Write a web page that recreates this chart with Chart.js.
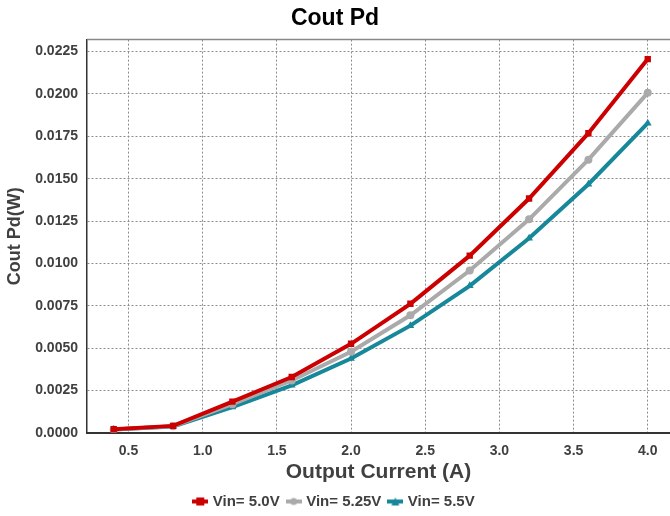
<!DOCTYPE html>
<html>
<head>
<meta charset="utf-8">
<script src="https://cdn.jsdelivr.net/npm/chart.js@4/dist/chart.umd.min.js"></script>
<style>
  html, body { margin: 0; padding: 0; background: #fff; }
  #wrap { width: 670px; height: 516px; position: relative; }
</style>
</head>
<body>
<div id="wrap"><canvas id="coutChart"></canvas></div>
<script>
// Output current (A)
const currents = [0.4, 0.8, 1.2, 1.6, 2.0, 2.4, 2.8, 3.2, 3.6, 4.0];

// Cout power dissipation (W)
const vin50 = [0.00022, 0.00042, 0.00185, 0.0033, 0.00526, 0.00762, 0.01046, 0.01383, 0.01768, 0.02205];
const vin525 = [0.0002, 0.0004, 0.0017, 0.0031, 0.00479, 0.00694, 0.00958, 0.0126, 0.01612, 0.02006];
const vin55 = [0.0002, 0.00038, 0.00153, 0.00281, 0.00439, 0.00633, 0.00868, 0.01148, 0.01467, 0.01827];

const seriesNames = ['Vin= 5.0V', 'Vin= 5.25V', 'Vin= 5.5V'];
const seriesColors = ['#cc0000', '#aaaaaa', '#17879a'];
const seriesMarkers = ['rect', 'circle', 'triangle'];
const markerSizes = [4.5, 4, 4.5];

const FONT = '"Liberation Sans", Arial, sans-serif';

function toPoints(values) {
  return currents.map((x, i) => ({ x: x, y: values[i] }));
}

// Small legend swatch: thick line with the marker in the middle
function makeSwatch(color, marker) {
  const c = document.createElement('canvas');
  c.width = 16;
  c.height = 10;
  const g = c.getContext('2d');
  g.fillStyle = color;
  g.fillRect(0, 3, 16, 4);
  g.beginPath();
  if (marker === 'rect') {
    g.rect(4, 1, 8, 8);
  } else if (marker === 'circle') {
    g.arc(8, 5, 3.5, 0, Math.PI * 2);
  } else {
    g.moveTo(8, 1); g.lineTo(12, 9); g.lineTo(4, 9); g.closePath();
  }
  g.fill();
  return c;
}

// Thin gray line along the top of the plot area
const topBorder = {
  id: 'topBorder',
  afterDraw(chart) {
    const { ctx, chartArea } = chart;
    ctx.save();
    ctx.strokeStyle = '#888';
    ctx.lineWidth = 1.5;
    ctx.beginPath();
    ctx.moveTo(chartArea.left, chartArea.top);
    ctx.lineTo(chartArea.right, chartArea.top);
    ctx.stroke();
    ctx.restore();
  }
};

const datasets = [vin50, vin525, vin55].map((vals, i) => ({
  label: seriesNames[i],
  data: toPoints(vals),
  borderColor: seriesColors[i],
  backgroundColor: seriesColors[i],
  borderWidth: 4,
  pointStyle: seriesMarkers[i],
  pointRadius: markerSizes[i],
  pointBorderWidth: 0,
  tension: 0,
  fill: false
}));

const ctx = document.getElementById('coutChart').getContext('2d');
new Chart(ctx, {
  type: 'line',
  data: { datasets: datasets },
  plugins: [topBorder],
  options: {
    responsive: true,
    maintainAspectRatio: false,
    animation: false,
    layout: { autoPadding: false, padding: { left: 0, right: 0, top: 0, bottom: -3 } },
    plugins: {
      title: {
        display: true,
        text: 'Cout Pd',
        color: '#000',
        font: { family: FONT, size: 23, weight: 'bold' },
        padding: { top: 5, bottom: 7 }
      },
      legend: {
        position: 'bottom',
        labels: {
          color: '#404040',
          font: { family: FONT, size: 15, weight: 'bold' },
          usePointStyle: true,
          pointStyleWidth: 10,
          padding: 9,
          generateLabels(chart) {
            return chart.data.datasets.map((ds, i) => ({
              text: ds.label,
              pointStyle: makeSwatch(seriesColors[i], seriesMarkers[i]),
              fillStyle: seriesColors[i],
              strokeStyle: seriesColors[i],
              lineWidth: 0,
              fontColor: '#404040',
              datasetIndex: i,
              hidden: false
            }));
          }
        }
      },
      tooltip: { enabled: false }
    },
    scales: {
      x: {
        type: 'linear',
        min: 0.22,
        max: 4.15,
        afterFit(scale) { scale.height = 52; },
        ticks: {
          stepSize: 0.5,
          includeBounds: false,
          color: '#404040',
          padding: 10,
          font: { family: FONT, size: 14, weight: 'bold' },
          callback: (v) => v.toFixed(1)
        },
        grid: { color: '#8c8c8c', lineWidth: 1, drawTicks: false },
        border: { color: '#333', width: 2, dash: [2, 2] },
        title: {
          display: true,
          text: 'Output Current (A)',
          color: '#404040',
          font: { family: FONT, size: 21, weight: 'bold' },
          padding: { top: 0, bottom: 0 }
        }
      },
      y: {
        min: 0,
        max: 0.0232,
        afterFit(scale) { scale.width = 87; },
        ticks: {
          stepSize: 0.0025,
          includeBounds: false,
          color: '#404040',
          padding: 9,
          font: { family: FONT, size: 14, weight: 'bold' },
          callback: (v) => v.toFixed(4)
        },
        grid: { color: '#8c8c8c', lineWidth: 1, drawTicks: false },
        border: { color: '#333', width: 1.5, dash: [2, 2] },
        title: {
          display: true,
          text: 'Cout Pd(W)',
          color: '#404040',
          font: { family: FONT, size: 18, weight: 'bold' },
          padding: { top: 4, bottom: 0 }
        }
      }
    }
  }
});
</script>
</body>
</html>
